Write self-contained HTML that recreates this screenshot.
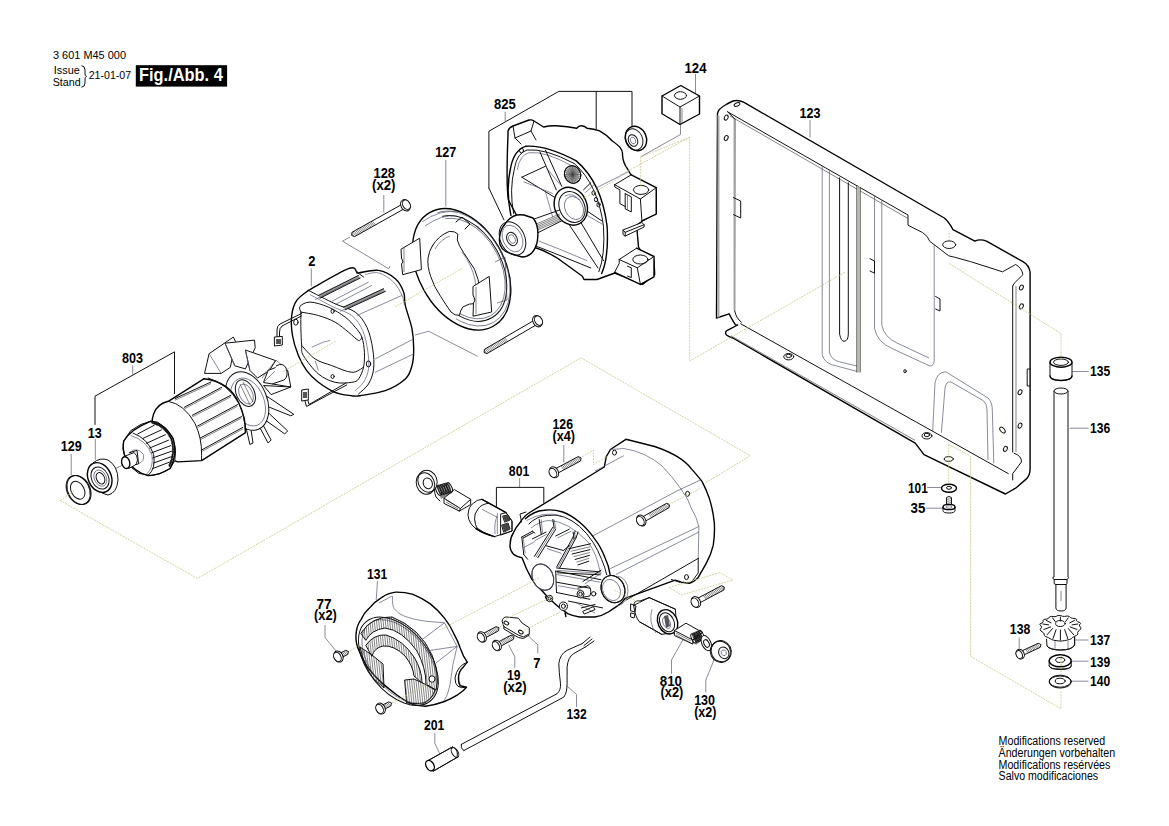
<!DOCTYPE html>
<html><head><meta charset="utf-8"><style>
html,body{margin:0;padding:0;background:#fff;width:1169px;height:826px;overflow:hidden}
svg{position:absolute;left:0;top:0;font-family:"Liberation Sans",sans-serif}
.k{fill:none;stroke:#111;stroke-width:1;stroke-linejoin:round;stroke-linecap:round}
.kb{fill:none;stroke:#000;stroke-width:1.4;stroke-linejoin:round;stroke-linecap:round}
.t{fill:none;stroke:#333;stroke-width:0.6}
.g{fill:none;stroke:#555a70;stroke-width:0.7}
.d{fill:none;stroke:#c9c58e;stroke-width:0.8;stroke-dasharray:2 1}
.w{fill:#fff;stroke:#111;stroke-width:1;stroke-linejoin:round}
.wb{fill:#fff;stroke:#000;stroke-width:1.4;stroke-linejoin:round}
.gr{fill:#b8b8a8;stroke:none}
</style></head><body>
<svg width="1169" height="826" viewBox="0 0 1169 826">
<path class="wb" d="M717.5,113.3 Q718,109 727,104 L733,101 Q738,99.5 743.6,102.2 L944.3,218 Q949,222 953,229.6 L974.9,241.2 Q980,238.5 986.5,241.2 L1022.9,261.6 Q1029,265 1030.1,272 L1030.1,469 Q1030,476 1025.8,479.4 L1015.6,488.2 L1005.4,494 L924,454.7 Q919,448 915.2,443.1 L732.8,338 Q726,336 725.6,333.7 Q725.5,331 726.8,330.7 L737.7,325 L735.3,324.7 Q731,318 729.2,313.8 L716.5,318 Z"/>
<path class="k" d="M734.9,119 L734.7,310.7 Q736,318 741.3,322.2"/>
<path d="M717.5,115 L719.5,116 L719.5,317 L717.5,318 Z" fill="#aaa"/>
<path d="M733.5,118 L734.9,119 L734.9,310 L733.5,310 Z" fill="#aaa"/>
<path class="k" d="M727.6,111.8 L734.9,119"/>
<path class="k" d="M727.6,111.8 L908,215 L908,225.3 L922.5,232.5 Q928,236 929.8,241.3 L948.7,255.8 L954.5,257.2 L970.5,261.6 L1002.5,271.8 L1015.6,264.5 Q1022,268 1022.9,274.7 L1014.1,283.4 L1012.7,286 L1012.7,452"/>
<path class="t" d="M730,116 L908,218.5"/>
<path class="t" d="M1016,286 L1016,452"/>
<ellipse class="k" cx="726.2" cy="117.6" rx="1.8" ry="2.6" transform="rotate(25 726.2 117.6)"/>
<ellipse class="k" cx="726.2" cy="138" rx="1.8" ry="2.6" transform="rotate(25 726.2 138)"/>
<ellipse class="k" cx="737" cy="104.5" rx="3" ry="1.6" transform="rotate(-20 737 104.5)"/>
<path class="k" d="M733.5,197.6 L740.7,201 L740.7,218 L733.5,214.6"/>
<path class="g" d="M822.2,165.9 L822.2,354.4 Q824,364 836.7,366 L858.5,371.8"/>
<path class="g" d="M829.4,170.0 L829.4,352 Q831,360 840,362 L857,366"/>
<path class="k" d="M839.6,177.8 L839.6,334 Q841,341.3 844,341.3 Q848.3,341 848.3,334 L848.3,182.8"/>
<path class="k" d="M857,185.8 L857,372 M860,187.5 L860,372"/>
<path class="gr" d="M857,185.8 L860,187.5 L860,372 L857,372 Z"/>
<path class="g" d="M874.5,195.8 L874.5,328.2 Q877,342 892,348.5 L929.8,366 Q934.2,366 934.2,360 L934.2,244.6"/>
<path class="g" d="M881.8,199.9 L881.8,325 Q884,337 897,343 L929,358"/>
<path class="k" d="M870,258.7 L874.5,261 L874.5,273.2 L870,271"/>
<path class="k" d="M935.6,296.5 L940,299 L940,311 L935.6,309"/>
<path class="g" d="M932.7,431.4 L935,383 Q937,372 945.8,371.8 L988,398 Q992.3,402 992.3,410 L993.8,463.4"/>
<path class="g" d="M941.4,432.9 L945,388 Q946,381 951,382 L983.6,400.9 Q987,404 987,410 L988,460"/>
<path class="k" d="M740.7,323.8 L1008.3,473.6"/>
<path class="t" d="M731,335.8 L915,440.3"/>
<ellipse class="k" cx="788.7" cy="356.7" rx="5" ry="3.2"/>
<ellipse class="k" cx="788.7" cy="355.9" rx="2.8" ry="1.6"/>
<ellipse class="k" cx="926.9" cy="435.8" rx="5" ry="3.2"/>
<ellipse class="k" cx="926.9" cy="435.0" rx="2.8" ry="1.6"/>
<ellipse class="k" cx="948.7" cy="459" rx="4.5" ry="2.3"/>
<ellipse class="k" cx="949.2" cy="244.7" rx="6.5" ry="3.8"/>
<ellipse class="k" cx="905" cy="371.2" rx="1.2" ry="1.6"/>
<ellipse class="k" cx="1021.4" cy="287.5" rx="1.8" ry="2.6" transform="rotate(25 1021.4 287.5)"/>
<ellipse class="k" cx="1021.4" cy="306.4" rx="1.8" ry="2.6" transform="rotate(25 1021.4 306.4)"/>
<ellipse class="k" cx="1020" cy="392.2" rx="1.8" ry="2.6" transform="rotate(25 1020 392.2)"/>
<ellipse class="k" cx="1020" cy="425.6" rx="1.8" ry="2.6" transform="rotate(25 1020 425.6)"/>
<ellipse class="k" cx="1005.4" cy="448.9" rx="1.8" ry="2.6" transform="rotate(25 1005.4 448.9)"/>
<ellipse class="k" cx="1002.5" cy="430" rx="2" ry="3.5" transform="rotate(-40 1002.5 430)"/>
<path class="k" d="M1030.1,369 L1027.2,369 L1027.2,386 L1030.1,386"/>
<path class="k" d="M1014.1,453.2 Q1022,456 1021.4,462 L1012.7,473.6 L1012.7,480"/>
<polyline class="g" points="695.5,74.0 695.5,94.0"/>
<polyline class="g" points="810.0,120.0 810.0,137.5"/>
<polyline class="g" points="680.5,124.7 680.5,134.5 640.7,156.8"/>
<polyline class="g" points="927.3,487.5 941.5,487.5"/>
<polyline class="g" points="926.0,508.2 943.5,508.2"/>
<polyline class="g" points="1072.2,371.5 1088.5,371.5"/>
<polyline class="g" points="1069.7,428.2 1088.5,428.2"/>
<polyline class="g" points="1074.7,640.0 1088.5,640.0"/>
<polyline class="g" points="1072.0,661.2 1088.5,661.2"/>
<polyline class="g" points="1072.0,681.2 1088.5,681.2"/>
<polyline class="g" points="1019.2,637.5 1019.2,648.7"/>
<polyline class="g" points="505.2,111.7 505.2,121.4"/>
<polyline class="k" points="488.9,188.1 488.9,131.2 558.8,91.4 632.0,91.4 632.0,126.3"/>
<polyline class="k" points="596.2,91.4 596.2,128.8"/>
<polyline class="k" points="488.9,188.1 504.0,220.0"/>
<path class="wb" d="M508,134.7 L508,131 Q509,127.5 513,126 L529,120 Q532,119.5 534,121 L543.6,127 Q550,125.5 556.3,125.8 Q568,126.5 576.7,128.3 Q579,125.5 581.8,125.8 Q585,126 586.9,128.3 Q594,129 599.6,130.9 Q607,135 612.3,141 Q618,145 620,147.4 Q623,151 622.5,155 Q623,163 627.6,169 Q630,174 632.7,176.7 L653.9,187 Q656.3,188.5 656.3,191 L656.3,212.9 L642.5,221 Q637,224 636.8,227.5 L638.5,247 L642.5,253.5 L653.9,260 L654.7,274.6 L642.5,284.4 L614.9,273 L597,279.5 L584,279.5 L582.4,276.3 L564.5,263.3 Q550,252 533.6,247 L508.4,200 Q506,185 508,134.7 Z"/>
<path class="kb" d="M510.9,215.3 Q505.4,189.9 510.9,166.3 Q514.5,150.0 525.4,146.3 Q545.4,144.5 576.3,160.9 Q601.7,182.7 607.1,226.2 Q608.9,257.1 601.7,273.4"/>
<path class="k" d="M513.6,213.5 Q509.1,189.9 514.5,168.1 Q517.2,152.7 527.2,150.0 Q545.4,148.2 574.4,163.6 Q598.0,184.5 603.5,226.2 Q605.3,255.3 598.9,271.6"/>
<path class="g" d="M517.2,169.9 Q520.0,154.5 529.0,152.7 Q545.4,150.9 572.6,166.3"/>
<path class="k" d="M539.9,151.8 L556.3,189.9"/>
<path class="k" d="M545.4,150.0 L561.7,186.3"/>
<path class="k" d="M521.8,177.2 L554.5,197.2"/>
<path class="g" d="M523.6,181.7 L552.7,193.5"/>
<path class="k" d="M521.8,177.2 L545.4,166.3"/>
<path class="g" d="M545.4,166.3 L559.9,184.5"/>
<path class="k" d="M569.0,224.4 L598.0,268.0"/>
<path class="k" d="M579.9,220.8 L603.5,260.7"/>
<path class="k" d="M585.3,209.9 L601.7,220.8"/>
<path class="g" d="M587.1,215.3 L602.6,224.4"/>
<path class="k" d="M583.5,189.9 L590.8,182.7"/>
<path class="g" d="M585.3,192.6 L594.4,184.5"/>
<path class="g" d="M545.4,191.7 L552.7,217.1"/>
<path class="k" d="M536.3,246.2 Q559.9,255.3 590.8,268.0"/>
<path class="g" d="M538.1,240.7 Q561.7,249.8 587.1,260.7"/>
<path class="k" d="M513,126 L515,138 L521,144 M515,138 L531,131 L534,121 M531,131 L536,140"/>
<ellipse class="k" cx="521.5" cy="150.5" rx="2.0" ry="2.5" transform="rotate(0 521.5 150.5)"/>
<path class="w" d="M614.7,184.7 L631.3,174.8 L656.2,187.7 L656.2,214.1 L641.9,220.9 L625.2,210.4 L619.9,203.6 L619.9,189.9 L614.7,186.9 Z" style="stroke:none"/>
<path class="k" d="M614.7,184.7 L631.3,174.8"/>
<path class="kb" d="M631.3,174.8 L656.2,187.7"/>
<path class="kb" d="M656.2,187.7 L656.2,214.1 L641.9,220.9"/>
<path class="k" d="M614.7,184.7 L640.4,199.0 L656.2,187.7"/>
<path class="k" d="M640.4,199.0 L641.9,220.9"/>
<path class="k" d="M614.7,184.7 L614.7,186.9 L619.9,189.9 L619.9,203.6 L625.2,206.6"/>
<path class="k" d="M625.2,193.7 L631.3,196.8 L631.3,211.9 L625.2,208.8 L625.2,193.7"/>
<path class="g" d="M627.5,195.2 L627.5,210.4"/>
<ellipse class="k" cx="641.1" cy="189.9" rx="7.6" ry="4.5" transform="rotate(0 641.1 189.9)"/>
<path class="w" d="M623.0,230.0 L641.9,222.5 L644.1,224.7 L644.1,227.0 L625.2,236.1 L623.0,234.5 Z"/>
<path class="k" d="M623.0,230.0 L625.2,232.3 L644.1,224.7"/>
<path class="k" d="M625.2,232.3 L625.2,236.1"/>
<path class="w" d="M619.2,259.5 L636.6,248.2 L654.0,256.5 L654.0,276.9 L640.4,284.4 L614.7,272.3 L619.2,263.3 Z" style="stroke:none"/>
<path class="k" d="M619.2,259.5 L636.6,248.2"/>
<path class="kb" d="M636.6,248.2 L654.0,256.5 L654.0,276.9 L640.4,284.4"/>
<path class="k" d="M619.2,259.5 L637.3,267.8 L654.0,256.5"/>
<path class="k" d="M637.3,267.8 L640.4,284.4"/>
<path class="k" d="M619.2,259.5 L619.2,263.3 L614.7,272.3"/>
<path class="kb" d="M614.7,272.3 L640.4,284.4"/>
<path class="k" d="M627.5,266.3 L631.3,267.8 L631.3,277.6 L627.5,276.1"/>
<ellipse class="k" cx="640.4" cy="259.5" rx="7.6" ry="4.5" transform="rotate(0 640.4 259.5)"/>
<path class="g" d="M596,188 L630,171"/>
<ellipse class="k" cx="593.5" cy="193.0" rx="1.6" ry="2.2" transform="rotate(0 593.5 193.0)"/>
<ellipse class="k" cx="596.0" cy="199.6" rx="1.6" ry="2.2" transform="rotate(0 596.0 199.6)"/>
<ellipse class="k" cx="598.5" cy="204.7" rx="1.6" ry="2.2" transform="rotate(0 598.5 204.7)"/>
<ellipse class="w" cx="572.6" cy="174.5" rx="8.0" ry="9.0" transform="rotate(-25 572.6 174.5)"/>
<path class="t" d="M580.1,174.5 L565.1,174.5"/>
<path class="t" d="M579.8,176.7 L565.4,172.3"/>
<path class="t" d="M579.1,178.8 L566.1,170.2"/>
<path class="t" d="M577.9,180.5 L567.3,168.5"/>
<path class="t" d="M576.4,181.9 L568.9,167.1"/>
<path class="t" d="M574.5,182.7 L570.7,166.3"/>
<path class="t" d="M572.6,183.0 L572.6,166.0"/>
<path class="t" d="M570.7,182.7 L574.5,166.3"/>
<path class="t" d="M568.9,181.9 L576.4,167.1"/>
<path class="t" d="M567.3,180.5 L577.9,168.5"/>
<path class="t" d="M566.1,178.8 L579.1,170.2"/>
<path class="t" d="M565.4,176.7 L579.8,172.3"/>
<ellipse class="k" cx="572.6" cy="174.5" rx="8.0" ry="9.0" transform="rotate(-25 572.6 174.5)"/>
<ellipse cx="572.6" cy="174.5" rx="7" ry="8" fill="#555" opacity="0.45"/>
<ellipse class="wb" cx="570.8" cy="206.2" rx="16.0" ry="19.5" transform="rotate(-25 570.8 206.2)"/>
<ellipse class="k" cx="572.0" cy="207.0" rx="12.5" ry="16.0" transform="rotate(-25 572.0 207.0)"/>
<ellipse class="g" cx="574.0" cy="208.0" rx="9.0" ry="12.0" transform="rotate(-25 574.0 208.0)"/>
<path class="g" d="M565,196 Q572,192 580,200"/>
<path class="k" d="M529.0,220.8 L559.9,209.9"/>
<path class="k" d="M536.3,233.5 L561.7,220.8"/>
<path class="t" d="M535.4,224.4 L559.9,213.9"/>
<path class="t" d="M535.4,226.0 L559.9,215.5"/>
<path class="t" d="M535.4,227.7 L559.9,217.1"/>
<path class="t" d="M535.4,229.3 L559.9,218.8"/>
<path class="t" d="M535.4,230.9 L559.9,220.4"/>
<path class="wb" d="M505,224 Q512,213 524,215 L533,218 Q540,226 537,243 Q533,257 522,257 L512,254 Q498,250 499.5,238 Q500,230 505,224 Z"/>
<ellipse class="k" cx="512.5" cy="238.5" rx="12.2" ry="17.5" transform="rotate(-25 512.5 238.5)"/>
<ellipse class="g" cx="512.5" cy="238.5" rx="9.5" ry="14.0" transform="rotate(-25 512.5 238.5)"/>
<ellipse class="k" cx="512.0" cy="239.0" rx="5.0" ry="7.0" transform="rotate(-25 512.0 239.0)"/>
<ellipse class="g" cx="512.0" cy="239.0" rx="3.0" ry="4.5" transform="rotate(-25 512.0 239.0)"/>
<ellipse class="wb" cx="636" cy="138.5" rx="10.3" ry="12.5" transform="rotate(-25 636 138.5)"/>
<ellipse class="k" cx="634" cy="139.5" rx="8.5" ry="11" transform="rotate(-25 634 139.5)"/>
<ellipse class="k" cx="633" cy="140.5" rx="4.5" ry="6" transform="rotate(-25 633 140.5)"/>
<ellipse class="g" cx="633" cy="140.5" rx="2.5" ry="3.5" transform="rotate(-25 633 140.5)"/>
<path class="wb" d="M680.75,85.5 L699.5,96 L699.5,114 L680,124.5 L662,113.75 L662,96 Z"/>
<path class="k" d="M662,96 L680,107 L699.5,96 M680,107 L680,124.5"/>
<path class="t" d="M682,108 L682,123"/>
<ellipse class="k" cx="680.5" cy="95.5" rx="6" ry="3.8"/>
<polyline class="g" points="445.8,160.0 445.8,206.5"/>
<ellipse class="wb" cx="461.6" cy="269.3" rx="65.1" ry="43.1" transform="rotate(61 461.6 269.3)"/>
<clipPath id="rimclip"><path d="M420,200 L530,200 L530,340 L440,340 L470,300 L490,250 L440,215 Z"/></clipPath>
<g clip-path="url(#rimclip)">
<ellipse class="g" cx="463.4" cy="268.5" rx="61.8" ry="40.9" transform="rotate(61 463.4 268.5)"/>
<ellipse class="k" cx="464.0" cy="268.5" rx="56.6" ry="37.5" transform="rotate(61 464.0 268.5)"/>
<ellipse class="g" cx="464.4" cy="268.5" rx="54.0" ry="35.8" transform="rotate(61 464.4 268.5)"/>
</g>
<path class="g" d="M422,222 Q440,209 458,212"/>
<path class="g" d="M425,226 Q442,214 457,216"/>
<path class="k" d="M456,222 L462,217 L470,224 L465,229"/>
<path class="k" d="M432.4,245.8 Q438,236 449.3,231.4 Q455,231 457.8,234 Q456,240 459.5,245.8 Q463,252 468,259.4 Q476,269 478.1,279.7 Q481,292 476.4,303.5 Q469,303 462.9,306.9 Q460,311 459.5,315.3 Q455,316 451,312 Q446,305 440.8,296.7 Q434,287 430.7,276.4 Q427,266 428.1,257.7 Q429,251 432.4,245.8 Z"/>
<path class="g" d="M435,249 Q441,239 450,236 M462,252 Q472,265 475,280 Q477,292 474,300"/>
<path class="w" d="M401,249.2 L419.7,238.2 L421.4,269.6 L402.7,274.7 L401.5,264 L403,262 L401.5,258 Z"/>
<path class="t" d="M404,248 L404,272"/>
<path class="w" d="M473,286.5 L489.2,276.4 L491.7,312 L473,316.2 L473.5,303 L475,300 L473,295 Z"/>
<path class="t" d="M476,287 L476,314"/>
<path class="t" d="M495,262 L505,257 L507,300 L497,303"/>
<polyline class="g" points="383.8,195.0 383.8,212.5"/>
<path class="w" d="M401.0,204.9 L352.1,232.2 L351.6,235.4 L354.6,236.6 L403.5,209.2"/>
<path class="t" d="M372.3,221.0 L375.4,224.9 M370.9,221.7 L374.0,225.7 M369.5,222.5 L372.6,226.5 M368.1,223.3 L371.2,227.3 M366.7,224.1 L369.8,228.1 M365.3,224.9 L368.4,228.8 M363.9,225.7 L367.0,229.6 M362.5,226.4 L365.6,230.4 M361.1,227.2 L364.2,231.2 M359.7,228.0 L362.8,232.0 M358.3,228.8 L361.5,232.8 M356.9,229.6 L360.1,233.5 M355.5,230.3 L358.7,234.3 M354.1,231.1 L357.3,235.1 M352.7,231.9 L355.9,235.9 M351.3,232.7 L354.5,236.7"/>
<ellipse class="w" cx="405.4" cy="205.3" rx="4.5" ry="6.0" transform="rotate(150.8 405.4 205.3)"/>
<ellipse class="w" cx="406.4" cy="204.7" rx="3.6" ry="5.1" transform="rotate(150.8 406.4 204.7)"/>
<path class="w" d="M533.1,320.9 L484.5,349.3 L484.0,352.5 L487.0,353.6 L535.7,325.2"/>
<path class="t" d="M504.5,337.6 L507.7,341.5 M503.1,338.4 L506.4,342.3 M501.8,339.2 L505.0,343.1 M500.4,340.0 L503.6,343.9 M499.0,340.8 L502.2,344.7 M497.6,341.6 L500.8,345.6 M496.2,342.4 L499.4,346.4 M494.8,343.3 L498.1,347.2 M493.5,344.1 L496.7,348.0 M492.1,344.9 L495.3,348.8 M490.7,345.7 L493.9,349.6 M489.3,346.5 L492.5,350.4 M487.9,347.3 L491.2,351.2 M486.6,348.1 L489.8,352.0 M485.2,348.9 L488.4,352.8 M483.8,349.7 L487.0,353.6"/>
<ellipse class="w" cx="537.5" cy="321.2" rx="4.5" ry="6.0" transform="rotate(149.7 537.5 321.2)"/>
<ellipse class="w" cx="538.5" cy="320.6" rx="3.6" ry="5.1" transform="rotate(149.7 538.5 320.6)"/>
<path class="g" d="M350,237 L342.5,241.2 L388.75,268.75 L390,266"/>
<path class="g" d="M415,335 L428.75,331.25 L477.5,356.25"/>
<polyline class="g" points="311.3,268.5 311.3,286.3"/>
<path class="wb" d="M308.4,290.4 C315.1,286.8 340.4,271.7 348.5,268.7 C356.6,265.6 355.2,271.3 356.8,272.0 C358.5,272.7 354.9,273.1 358.5,272.9 C362.1,272.6 372.4,269.4 378.6,270.4 C384.7,271.3 391.1,275.1 395.3,278.7 C399.5,282.3 402.0,287.6 403.6,292.1 C405.3,296.5 403.9,299.3 405.3,305.4 C406.7,311.6 410.6,321.6 412.0,328.8 C413.4,336.1 413.7,342.8 413.7,348.9 C413.7,355.0 413.4,360.6 412.0,365.6 C410.6,370.6 409.8,374.8 405.3,379.0 C400.8,383.1 392.8,387.9 385.3,390.7 C377.7,393.4 365.8,394.8 360.2,395.7 C354.6,396.5 356.0,396.2 351.8,395.7 C347.7,395.1 340.7,394.6 335.1,392.3 C329.6,390.1 323.2,385.9 318.4,382.3 C313.7,378.7 310.1,375.1 306.7,370.6 C303.4,366.1 300.7,361.4 298.4,355.6 C296.0,349.7 293.6,342.2 292.5,335.5 C291.4,328.8 291.0,321.3 291.7,315.5 C292.4,309.6 293.9,304.6 296.7,300.4 C299.5,296.3 306.4,292.1 308.4,290.4"/>
<path class="g" d="M365.2,274.5 C367.4,274.3 373.8,271.6 378.6,272.9 C383.3,274.1 389.7,278.3 393.6,282.1 C397.5,285.8 400.1,291.5 402.0,295.4 C403.8,299.3 404.0,303.8 404.5,305.4"/>
<path class="k" d="M356.8,272.0 L363.5,277.0"/>
<path class="k" d="M308.4,290.4 C312.8,292.6 327.3,300.2 335.1,303.8 C342.9,307.4 349.9,308.2 355.2,312.1 C360.5,316.0 363.9,321.0 366.9,327.2 C369.8,333.3 371.6,341.9 372.7,348.9 C373.8,355.8 374.3,363.1 373.6,368.9 C372.9,374.8 371.0,379.8 368.5,384.0 C366.0,388.1 360.2,392.3 358.5,394.0"/>
<path class="g" d="M310.1,294.6 C314.0,296.7 326.5,303.6 333.5,307.1 C340.4,310.6 347.0,311.6 351.8,315.5 C356.7,319.4 360.0,324.7 362.7,330.5 C365.3,336.4 366.7,344.1 367.7,350.6 C368.7,357.0 369.2,363.6 368.5,368.9 C367.8,374.2 365.8,378.7 363.5,382.3 C361.3,385.9 356.6,389.3 355.2,390.7"/>
<path class="k" d="M300.9,312.1 C300.7,311.2 298.5,307.9 300.0,306.3 C301.6,304.6 305.3,302.0 310.1,302.1 C314.8,302.2 322.6,304.6 328.4,307.1 C334.3,309.6 340.7,313.8 345.2,317.1 C349.6,320.5 352.4,323.8 355.2,327.2 C358.0,330.5 360.3,333.0 361.9,337.2 C363.4,341.4 364.1,347.2 364.4,352.2 C364.6,357.2 364.5,362.8 363.5,367.3 C362.6,371.7 360.5,376.5 358.5,379.0 C356.6,381.5 355.7,381.7 351.8,382.3 C347.9,382.9 340.7,383.7 335.1,382.3 C329.6,380.9 323.7,378.4 318.4,373.9 C313.1,369.5 306.2,360.3 303.4,355.6 C300.6,350.8 302.1,350.0 301.7,345.5 C301.3,341.1 301.0,334.4 300.9,328.8 C300.7,323.3 300.9,314.9 300.9,312.1"/>
<path class="k" d="M300.9,312.1 C303.8,312.7 312.7,313.8 318.4,315.5 C324.1,317.1 330.1,319.4 335.1,322.2 C340.1,324.9 344.6,329.1 348.5,332.2 C352.4,335.2 356.3,339.7 358.5,340.5 C360.7,341.4 361.3,337.7 361.9,337.2"/>
<path class="k" d="M301.7,345.5 C303.9,347.8 310.1,355.6 315.1,358.9 C320.1,362.3 325.7,363.4 331.8,365.6 C337.9,367.8 346.5,372.0 351.8,372.3 C357.1,372.6 361.6,368.1 363.5,367.3"/>
<path class="g" d="M311.7,347.2 C313.7,346.4 320.4,343.3 323.4,342.2 C326.5,341.1 329.0,340.8 330.1,340.5"/>
<path class="g" d="M315.1,360.6 C315.6,362.3 317.9,368.9 318.4,370.6"/>
<ellipse class="k" cx="332.6" cy="311.3" rx="1.6" ry="2.0" transform="rotate(0 332.6 311.3)"/>
<ellipse class="k" cx="368.5" cy="363.9" rx="2.2" ry="3.0" transform="rotate(0 368.5 363.9)"/>
<ellipse class="k" cx="295.9" cy="322.2" rx="2.2" ry="3.0" transform="rotate(0 295.9 322.2)"/>
<ellipse class="k" cx="332.6" cy="376.5" rx="1.6" ry="2.0" transform="rotate(0 332.6 376.5)"/>
<path d="M318.4,295.4 L358.5,275.4 L360.2,278.0 L320.1,298.1 Z" fill="#999"/>
<path class="k" d="M318.4,295.4 L358.5,275.4 M320.1,298.1 L360.2,278.0"/>
<path class="g" d="M315.1,299.6 L355.2,279.5"/>
<path d="M343.5,307.1 L383.6,288.7 L385.3,291.4 L345.2,309.8 Z" fill="#999"/>
<path class="k" d="M343.5,307.1 L383.6,288.7 M345.2,309.8 L385.3,291.4"/>
<path class="g" d="M340.1,311.3 L380.2,292.9"/>
<path class="g" d="M331.8,301.3 L368.5,282.1 M335.1,304.6 L371.9,285.4"/>
<path class="g" d="M356.8,315.5 L402.0,295.4"/>
<path class="g" d="M375.2,358.9 L413.7,338.9 M375.2,372.3 L413.7,353.9"/>
<path class="k" d="M301.5,313.5 L280,324 Q277,326 277,330 L277,337.3 M301.5,316 L282,326 Q279.5,328 279.5,332 L279.5,337"/>
<path class="w" d="M274.4,337 L282.3,336.4 L282.3,345 L274.4,346 Z"/>
<path d="M276,339 L281,339 L281,344 L276,344 Z" fill="#555"/>
<path class="k" d="M305,401 L306.5,406.5 L346.7,385 M308,400.5 L309,404.5 L346,383"/>
<path class="w" d="M301.7,390 L308.3,389 L308.3,400 L301.7,401 Z"/>
<path d="M303,392 L307,392 L307,398 L303,398 Z" fill="#555"/>
<polyline class="g" points="132.7,365.4 132.7,374.5"/>
<polyline class="k" points="95.0,424.5 95.0,396.2 174.5,351.8 174.5,393.6"/>
<path class="w" d="M204.5,373.4 L209.1,353.7 L233.3,337.1 L235.6,341.6 L230.3,367.4 L221.2,373.4 Z"/>
<path class="w" d="M225.0,343.2 L254.5,340.1 L255.2,347.7 L245.4,368.9 L234.8,365.8 Z"/>
<path class="w" d="M245.4,350.0 L275.6,360.6 L269.6,370.4 L257.5,378.0 L249.9,370.4 Z"/>
<path class="w" d="M268.1,370.4 L280.2,365.8 L287.7,370.4 L290.8,387.0 L263.5,382.5 Z"/>
<path class="w" d="M263.5,385.5 L290.8,387.0 L271.1,394.6 Z"/>
<path class="w" d="M266.6,396.1 L293.8,414.3 L290.8,415.8 L268.1,406.7 Z"/>
<path class="w" d="M265.0,409.7 L287.7,430.9 L284.7,433.9 L263.5,418.8 Z"/>
<path class="w" d="M260.5,420.3 L271.1,440.0 L268.1,443.0 L257.5,423.3 Z"/>
<path class="w" d="M249.9,421.8 L253.0,443.0 L249.9,444.5 L245.4,424.8 Z"/>
<path class="g" d="M209.1,353.7 L221.2,373.4 M225,343.2 L234.8,365.8 M245.4,350 L249.9,370.4 M263.5,382.5 L280.2,365.8"/>
<path class="t" d="M262,378 L276,360 L287.7,370.4"/>
<path class="w" d="M276,366 Q283,362 286,368 Q289,376 284,380 L272,384"/>
<ellipse class="w" cx="247.0" cy="401.0" rx="20.0" ry="30.5" transform="rotate(-22 247.0 401.0)"/>
<ellipse class="g" cx="248.0" cy="402.0" rx="16.0" ry="25.0" transform="rotate(-22 248.0 402.0)"/>
<ellipse class="k" cx="245.4" cy="393.1" rx="9.0" ry="14.0" transform="rotate(-25 245.4 393.1)"/>
<ellipse class="g" cx="246.0" cy="394.0" rx="6.5" ry="10.5" transform="rotate(-25 246.0 394.0)"/>
<path class="t" d="M240,384 L250,405 M243,382 L253,402"/>
<path class="wb" d="M168.3,401.3 L204.2,378.7 Q230,382 238.9,403.3 Q246,418 245.5,432.6 L201.6,460.6 L177.6,461.9 Q162,457 155,439.3 Q150,423 153.6,414 Q157,404 168.3,401.3 Z"/>
<path class="k" d="M168.3,401.3 Q184,404 194.9,423.3 Q202,438 201.6,455.3 L201.6,460.6"/>
<path class="k" d="M208.2,378 Q228,384 238.9,403.3 Q245,417 245.5,432.6"/>
<path class="k" d="M175,398.6 L211,382"/>
<path class="t" d="M175,400.20000000000005 L211,383.6"/>
<path class="k" d="M184.3,407.3 L221.6,387.3"/>
<path class="t" d="M184.3,408.90000000000003 L221.6,388.90000000000003"/>
<path class="k" d="M192.3,415.3 L230.9,395.3"/>
<path class="t" d="M192.3,416.90000000000003 L230.9,396.90000000000003"/>
<path class="k" d="M197.6,426 L237.6,404.6"/>
<path class="t" d="M197.6,427.6 L237.6,406.20000000000005"/>
<path class="k" d="M200.3,438 L241.5,416.6"/>
<path class="t" d="M200.3,439.6 L241.5,418.20000000000005"/>
<path class="k" d="M201.6,450 L242.9,427.3"/>
<path class="t" d="M201.6,451.6 L242.9,428.90000000000003"/>
<path class="w" d="M123.7,441.0 L130.7,430.7 L141.0,424.4 L150.4,421.3 L157.5,422.1 L166.1,428.4 L173.2,438.6 L175.6,450.4 L174.8,460.6 L170.1,468.5 L159.1,474.0 L150.4,475.6 L138.6,473.2 L130.7,466.9 L125.2,459.1 L122.9,448.8 L123.7,441.0 Z"/>
<path class="kb" d="M123.7,441.0 Q130.7,429.2 150.4,421.3 Q163.8,422.9 173.2,438.6 Q177.9,454.3 170.1,468.5 Q159.1,475.6 148.0,475.6 Q134.7,472.4 126.0,459.1 Q122.1,449.6 123.7,441.0"/>
<path class="kb" d="M152.0,422.5 Q165.4,426.0 171.6,439.4 Q175.6,452.8 169.3,466.1"/>
<path d="M152.0,422.5 Q165.4,426.0 171.6,439.4 Q175.6,452.8 169.3,466.1" fill="none" stroke="#222" stroke-width="2.6" stroke-dasharray="0.8 0.8"/>
<path class="k" d="M133.1,433.1 Q148.0,438.6 153.6,454.3 Q155.9,468.5 148.8,474.8"/>
<path class="g" d="M130.7,435.5 Q146.5,440.2 152.0,455.1 Q153.6,468.5 146.5,474.0"/>
<path class="k" d="M137.8,433.9 L154.3,425.2"/>
<path class="k" d="M142.5,438.6 L161.4,429.9"/>
<path class="k" d="M146.5,443.3 L165.4,434.7"/>
<path class="k" d="M149.6,448.0 L168.5,440.2"/>
<path class="k" d="M151.6,452.8 L170.5,445.7"/>
<path class="k" d="M152.8,457.9 L171.6,451.2"/>
<path class="k" d="M153.6,463.0 L171.3,456.7"/>
<path class="k" d="M152.8,468.5 L169.3,462.2"/>
<path class="g" d="M129.9,452.0 Q137.8,446.5 143.3,454.3 Q144.9,462.2 137.8,463.8"/>
<path class="k" d="M129.2,452.8 L137.0,450.4 L138.6,463.8 L130.7,466.1"/>
<path class="w" d="M123,457 L134,452.5 Q137.5,455 137.5,460 Q137,464 134.5,465.5 L128.3,468.6"/>
<ellipse class="wb" cx="125.7" cy="462.6" rx="4.0" ry="6.0" transform="rotate(-15 125.7 462.6)"/>
<polyline class="g" points="71.2,454.0 71.2,475.2"/>
<polyline class="g" points="95.3,439.0 95.3,459.9"/>
<path class="g" d="M115.7,468.4 L122,465.4"/>
<path class="w" d="M93,463 Q100,457 108,460 Q118,466 118,480 Q117,493 108,495 L102,493"/>
<ellipse class="wb" cx="99.7" cy="477.5" rx="11.5" ry="15.5" transform="rotate(-25 99.7 477.5)"/>
<ellipse class="k" cx="100.0" cy="478.0" rx="8.5" ry="11.5" transform="rotate(-25 100.0 478.0)"/>
<ellipse class="g" cx="100.3" cy="478.1" rx="6.0" ry="8.5" transform="rotate(-25 100.3 478.1)"/>
<ellipse class="k" cx="100.5" cy="478.3" rx="4.0" ry="6.0" transform="rotate(-25 100.5 478.3)"/>
<ellipse class="w" cx="79.0" cy="490.0" rx="11.0" ry="15.3" transform="rotate(-28 79.0 490.0)"/>
<ellipse class="k" cx="78.2" cy="490.0" rx="11.0" ry="15.3" transform="rotate(-28 78.2 490.0)"/>
<ellipse class="k" cx="77.7" cy="490.2" rx="6.5" ry="9.5" transform="rotate(-28 77.7 490.2)"/>
<path class="wb" d="M530.5,512 L604.3,467 L606.3,456.7 L610.4,449.5 L625.9,439.3 L654.6,446.5 Q668,451 677.3,456.7 Q686,462 691.7,469.1 Q697,475 702,481.4 Q706,489 709.2,497.9 Q713,510 714.3,522.6 Q715,534 713.3,545.2 Q711,555 706.1,563.7 Q702,571 697.8,578.1 Q694,582 689.6,583.2 L681.4,582.2 L675.2,580.1 L625,598.4 Q622,603 618.6,605.2 Q613,609 608.4,612 Q602,616 594.8,617 L579.6,617 Q573,616 567.7,613.6 Q558,607 549.1,598.4 Q540,589 532.2,579.8 Q526,569 522,557.8 Q517,557 513.6,554.4 Q509,549 510.2,544.2 Q510,538 513.6,532.3 Q516,527 520.3,522.2 Q524,516 530.5,512 Z"/>
<path class="g" d="M610.4,449.5 L623.8,448.5 Q646,452 662,466 Q672,476 681,489 Q688,498 691.7,509 Q697,518 698.9,526.5 L698.2,558.4"/>
<path class="k" d="M698.2,558.4 L698.2,573 L691.7,581.7 M671.3,579.5 L680,582.4"/>
<path class="g" d="M595,471.1 L623.8,455.7"/>
<path class="g" d="M592.9,535.9 L677.1,490.9 L700.4,480"/>
<path class="g" d="M610.3,568.6 L698.9,526.5"/>
<path class="g" d="M616.1,574.4 L698.9,532"/>
<path class="k" d="M626.3,600 L698.2,558.4"/>
<ellipse class="k" cx="614.5" cy="452.6" rx="2.0" ry="2.5" transform="rotate(0 614.5 452.6)"/>
<ellipse class="k" cx="687.6" cy="493.8" rx="2.0" ry="2.5" transform="rotate(0 687.6 493.8)"/>
<ellipse class="k" cx="686.5" cy="577.1" rx="2.0" ry="2.5" transform="rotate(0 686.5 577.1)"/>
<path class="kb" d="M525.4,518.8 Q534,511 544,510.3 Q553,509 562.7,512 Q571,515 579.6,522.2 Q588,529 594.8,539.1 Q601,547 605,557.8 Q609,566 610.1,574.7"/>
<path class="k" d="M528.8,523.9 Q537,516 547.4,515.4 Q556,514 564.4,517.1 Q572,520 579.6,526.4 Q587,533 593.2,542.5 Q598,550 601.6,559.4 Q605,567 606.7,574.7"/>
<path class="g" d="M531,528 Q540,521 549,520.5 Q568,521 588,542 Q597,554 600,572"/>
<path class="k" d="M534.4,556.4 L552.8,527.3"/>
<path class="k" d="M537.8,557.8 L555.7,529.2"/>
<path class="g" d="M536.1,557.1 L554.2,528.3"/>
<path class="k" d="M556.7,567.0 L573.1,537.0"/>
<path class="k" d="M559.6,568.0 L576.0,537.9"/>
<path class="g" d="M558.1,567.5 L574.6,537.5"/>
<path class="k" d="M573.1,537.0 L575.1,531.2"/>
<path class="k" d="M576.0,537.9 L578.0,532.1"/>
<path class="k" d="M556.7,568.0 L600.3,571.9"/>
<path class="k" d="M557.6,572.8 L600.3,574.8"/>
<path class="g" d="M557.2,570.4 L600.3,573.3"/>
<path class="k" d="M521.8,537.0 L532.4,531.2"/>
<path class="k" d="M532.4,531.2 L534.9,533.1"/>
<path class="k" d="M521.8,537.0 L523.7,554.4"/>
<path class="k" d="M523.7,554.4 L527.6,559.3"/>
<path class="k" d="M523.2,537.9 L533.4,532.6"/>
<path class="g" d="M523.2,537.9 L525.2,553.4"/>
<path class="g" d="M523.7,547.6 L534.4,541.8"/>
<path class="g" d="M523.2,538.4 L533.4,532.6"/>
<path class="k" d="M532.4,538.9 L546.0,532.1"/>
<path class="g" d="M534.4,540.9 L547.0,534.1"/>
<path class="k" d="M546.0,545.7 L563.4,550.5"/>
<path class="g" d="M547.0,548.6 L561.5,553.4"/>
<path class="k" d="M555.7,536.0 L569.3,529.2"/>
<path class="g" d="M557.6,537.9 L571.2,531.2"/>
<path class="k" d="M563.4,550.5 L569.3,545.7"/>
<path class="k" d="M569.3,548.6 L590.6,543.8"/>
<path class="t" d="M570.7,551.3 L590.3,546.7"/>
<path class="k" d="M572.2,554.0 L590.0,549.6"/>
<path class="t" d="M573.6,556.7 L589.7,552.5"/>
<path class="k" d="M575.1,559.5 L589.4,555.4"/>
<path class="t" d="M576.5,562.2 L589.1,558.3"/>
<path class="k" d="M578.0,564.9 L588.8,561.2"/>
<path class="k" d="M539.2,519.5 L541.2,534.1"/>
<path class="g" d="M541.2,519.5 L542.6,534.1"/>
<path class="k" d="M552.8,519.5 L554.2,528.3"/>
<path class="g" d="M554.2,519.5 L555.7,528.3"/>
<path class="k" d="M573.1,532.1 L574.1,538.9"/>
<path class="g" d="M574.6,532.1 L575.6,538.9"/>
<path class="g" d="M526.6,520.5 Q544.1,510.8 561.5,515.7"/>
<ellipse class="w" cx="542.8" cy="577.1" rx="10.3" ry="13.7" transform="rotate(-25 542.8 577.1)"/>
<ellipse class="g" cx="542.8" cy="577.1" rx="10.3" ry="13.7" transform="rotate(-25 542.8 577.1)"/>
<path class="k" d="M555.7,571.1 L601.0,579.7"/>
<path class="g" d="M556.5,574.5 L600.1,582.2"/>
<path class="k" d="M556.5,582.2 L589.9,588.2"/>
<path class="g" d="M558.2,585.7 L581.3,589.9"/>
<path class="k" d="M555.7,571.1 L556.5,592.5"/>
<path class="k" d="M556.5,592.5 L589.9,599.3"/>
<path class="k" d="M568.5,601.1 L602.7,607.9"/>
<path class="g" d="M576.2,602.8 L595.0,613.0"/>
<path class="k" d="M581.3,607.9 L595.0,604.5"/>
<path class="k" d="M583.0,581.4 L601.0,570.3"/>
<path class="g" d="M584.7,584.0 L601.9,572.8"/>
<path class="k" d="M577.9,588.2 L588.2,585.7 Q592.4,589.1 589.9,595.9 L581.3,597.6"/>
<ellipse class="w" cx="580.5" cy="594.2" rx="3.5" ry="3.8" transform="rotate(0 580.5 594.2)"/>
<ellipse class="k" cx="580.5" cy="594.2" rx="1.8" ry="2.0" transform="rotate(0 580.5 594.2)"/>
<ellipse class="k" cx="593.7" cy="593.8" rx="2.2" ry="2.2" transform="rotate(0 593.7 593.8)"/>
<ellipse class="w" cx="549.7" cy="598.5" rx="3.0" ry="3.2" transform="rotate(0 549.7 598.5)"/>
<ellipse class="k" cx="549.7" cy="598.5" rx="1.4" ry="1.6" transform="rotate(0 549.7 598.5)"/>
<ellipse class="w" cx="563.4" cy="606.2" rx="4.0" ry="4.2" transform="rotate(0 563.4 606.2)"/>
<ellipse class="k" cx="563.4" cy="606.2" rx="2.0" ry="2.2" transform="rotate(0 563.4 606.2)"/>
<path class="k" d="M583.0,611.3 L593.3,606.6 L595.0,609.6 L584.7,613.9 Z"/>
<path class="kb" d="M545.4,596.8 L547.1,600.2 M565.1,613.0 L565.9,616.5"/>
<ellipse class="w" cx="613.0" cy="589.1" rx="11.5" ry="14.0" transform="rotate(-25 613.0 589.1)"/>
<ellipse class="k" cx="613.0" cy="589.1" rx="11.5" ry="14.0" transform="rotate(-25 613.0 589.1)"/>
<ellipse class="g" cx="611.5" cy="590.0" rx="8.5" ry="11.0" transform="rotate(-25 611.5 590.0)"/>
<path class="g" d="M617,576 Q628,578 628,591 Q627,604 617,606"/>
<path class="k" d="M521.5,522 L520,514 L526,512"/>
<polyline class="g" points="519.6,478.2 519.6,487.4"/>
<polyline class="k" points="496.4,506.5 496.4,487.4 543.8,487.4 543.8,502.5"/>
<path class="w" d="M482,499.3 L506,512.6 L512,521 L512,531 L494.6,536.6 L492,536 Q480,532 476,528.6 Q469,524 468,515.3 Q468.5,506 473.3,503.3 Q477,499.5 482,499.3 Z"/>
<path class="kb" d="M482,499.3 L506,512.6"/>
<path class="k" d="M488,503.3 Q481,504.5 478,509 Q474,514 474.6,519 Q475,525 477,528 Q483,533 491.3,535.3"/>
<path class="g" d="M482,509.3 L497.3,517.3"/>
<path class="g" d="M497.3,513 L497.3,534 M497.3,516 Q494,522 495,534"/>
<path class="k" d="M501,514 L506,512.6 L512,521 L512,531 L501,535 Z"/>
<path class="k" d="M503,516 L508,515 L510,520 L505,522 Z M502,525 L508,523 L510,529 L504,532 Z"/>
<path d="M503,516 L508,515 L510,520 L505,522 Z M502,525 L508,523 L510,529 L504,532 Z" fill="#444"/>
<path class="kb" d="M476,528.6 Q484,534 494.6,536.6"/>
<path class="w" d="M444,498.2 L454.3,489.5 L470.7,499.3 L470.7,504.5 L459.4,511.1 L444,503.4 Z"/>
<path class="k" d="M444,498.2 L460.4,508.5 L470.7,499.3 M460.4,508.5 L459.4,511.1"/>
<path class="t" d="M446,500 L458,507 M446,502 L458,509"/>
<ellipse class="k" cx="438.5" cy="490.5" rx="2.2" ry="5.2" transform="rotate(-25 438.5 490.5)"/>
<ellipse class="k" cx="440.7" cy="489.9" rx="2.2" ry="5.2" transform="rotate(-25 440.7 489.9)"/>
<ellipse class="k" cx="442.9" cy="489.3" rx="2.2" ry="5.2" transform="rotate(-25 442.9 489.3)"/>
<ellipse class="k" cx="445.1" cy="488.7" rx="2.2" ry="5.2" transform="rotate(-25 445.1 488.7)"/>
<ellipse class="k" cx="447.3" cy="488.1" rx="2.2" ry="5.2" transform="rotate(-25 447.3 488.1)"/>
<ellipse class="k" cx="449.5" cy="487.5" rx="2.2" ry="5.2" transform="rotate(-25 449.5 487.5)"/>
<path d="M437,487 L449,482 L452,493 L441,499 Z" fill="#222" opacity="0.55"/>
<path class="k" d="M436,484 Q433,490 436,497 L440,501"/>
<ellipse class="w" cx="427.5" cy="481.2" rx="9.5" ry="11.2" transform="rotate(-20 427.5 481.2)"/>
<ellipse class="k" cx="425.4" cy="483.5" rx="9.0" ry="11.0" transform="rotate(-20 425.4 483.5)"/>
<ellipse class="k" cx="427.8" cy="483.3" rx="4.5" ry="5.5" transform="rotate(-20 427.8 483.3)"/>
<polyline class="g" points="563.8,445.0 563.8,462.5"/>
<path class="w" d="M558.2,472.9 L580.5,461.0 L581.1,457.9 L578.2,456.6 L555.9,468.5"/>
<path class="t" d="M564.0,469.8 L561.0,465.8 M565.4,469.1 L562.4,465.0 M566.8,468.3 L563.8,464.3 M568.2,467.6 L565.2,463.5 M569.7,466.8 L566.6,462.8 M571.1,466.1 L568.0,462.0 M572.5,465.3 L569.4,461.3 M573.9,464.6 L570.8,460.5 M575.3,463.8 L572.3,459.8 M576.7,463.1 L573.7,459.0 M578.1,462.3 L575.1,458.3 M579.6,461.6 L576.5,457.5 M581.0,460.8 L577.9,456.8"/>
<ellipse class="w" cx="554.0" cy="472.3" rx="4.3" ry="5.8" transform="rotate(-28.0 554.0 472.3)"/>
<ellipse class="w" cx="552.9" cy="472.9" rx="3.5" ry="4.9" transform="rotate(-28.0 552.9 472.9)"/>
<path class="w" d="M645.6,521.0 L669.0,507.7 L669.5,504.5 L666.5,503.3 L643.1,516.6"/>
<path class="t" d="M651.7,517.5 L648.5,513.5 M653.1,516.7 L649.9,512.7 M654.5,515.9 L651.3,511.9 M655.9,515.1 L652.7,511.2 M657.3,514.3 L654.1,510.4 M658.6,513.5 L655.5,509.6 M660.0,512.7 L656.9,508.8 M661.4,512.0 L658.3,508.0 M662.8,511.2 L659.7,507.2 M664.2,510.4 L661.1,506.4 M665.6,509.6 L662.4,505.6 M667.0,508.8 L663.8,504.8 M668.4,508.0 L665.2,504.1 M669.8,507.2 L666.6,503.3"/>
<ellipse class="w" cx="641.3" cy="520.5" rx="4.3" ry="5.8" transform="rotate(-29.6 641.3 520.5)"/>
<ellipse class="w" cx="640.3" cy="521.1" rx="3.5" ry="4.9" transform="rotate(-29.6 640.3 521.1)"/>
<path class="w" d="M700.2,602.6 L723.7,590.1 L724.3,587.0 L721.4,585.7 L697.9,598.2"/>
<path class="t" d="M706.4,599.3 L703.3,595.3 M707.8,598.6 L704.7,594.5 M709.2,597.8 L706.1,593.8 M710.6,597.1 L707.6,593.0 M712.0,596.3 L709.0,592.3 M713.4,595.6 L710.4,591.5 M714.8,594.8 L711.8,590.8 M716.3,594.1 L713.2,590.0 M717.7,593.3 L714.6,589.3 M719.1,592.6 L716.0,588.5 M720.5,591.8 L717.5,587.8 M721.9,591.1 L718.9,587.0 M723.3,590.3 L720.3,586.3 M724.7,589.6 L721.7,585.6"/>
<ellipse class="w" cx="696.0" cy="602.0" rx="4.3" ry="5.8" transform="rotate(-27.9 696.0 602.0)"/>
<ellipse class="w" cx="694.9" cy="602.6" rx="3.5" ry="4.9" transform="rotate(-27.9 694.9 602.6)"/>
<path class="w" d="M633.7,605.3 L649.2,597.6 L675.4,609.2 L677,632 L661.8,634.4 L639.5,621.8 Q635,617 633.7,605.3 Z"/>
<path class="k" d="M649.2,597.6 L675.4,609.2 M639.5,621.8 L661.8,634.4"/>
<path class="k" d="M633.7,605.3 Q634,600 640,601 L649.2,597.6"/>
<path class="g" d="M652.1,609.2 Q648,622 656,633"/>
<path class="k" d="M631,604 L636,606 L635,612 L631,611 Z M631,613 L635,614 L634,618 L631,617 Z"/>
<ellipse class="wb" cx="667.6" cy="621.8" rx="9.7" ry="12.6" transform="rotate(-25 667.6 621.8)"/>
<ellipse class="k" cx="667.0" cy="622.3" rx="7.0" ry="10.0" transform="rotate(-25 667.0 622.3)"/>
<ellipse class="g" cx="666.6" cy="622.8" rx="3.5" ry="6.0" transform="rotate(-25 666.6 622.8)"/>
<path d="M664,616 L668,615 L670,626 L666,628 Z" fill="#555"/>
<path class="w" d="M674.4,630.5 L686,623.2 L702.5,632.4 L692.8,640 L692.8,644.1 L674.4,635.5 Z"/>
<path class="k" d="M674.4,630.5 L692.8,640 L702.5,632.4"/>
<path class="t" d="M676,633 L691,641 M676,635 L691,643"/>
<path d="M692.8,633.4 L700,631 L702.5,640 L696,645 Z" fill="#222" opacity="0.5"/>
<ellipse class="k" cx="693.5" cy="638.5" rx="1.8" ry="5.0" transform="rotate(-25 693.5 638.5)"/>
<ellipse class="k" cx="695.5" cy="637.6" rx="1.8" ry="5.0" transform="rotate(-25 695.5 637.6)"/>
<ellipse class="k" cx="697.5" cy="636.7" rx="1.8" ry="5.0" transform="rotate(-25 697.5 636.7)"/>
<ellipse class="k" cx="699.5" cy="635.8" rx="1.8" ry="5.0" transform="rotate(-25 699.5 635.8)"/>
<ellipse class="k" cx="701.5" cy="634.9" rx="1.8" ry="5.0" transform="rotate(-25 701.5 634.9)"/>
<ellipse class="w" cx="706.3" cy="643.1" rx="4.5" ry="8.0" transform="rotate(-25 706.3 643.1)"/>
<ellipse class="k" cx="706.5" cy="643.5" rx="2.5" ry="4.0" transform="rotate(-25 706.5 643.5)"/>
<ellipse class="w" cx="721.2" cy="651.2" rx="10.0" ry="10.7" transform="rotate(-25 721.2 651.2)"/>
<ellipse class="k" cx="720.4" cy="651.8" rx="10.0" ry="10.7" transform="rotate(-25 720.4 651.8)"/>
<ellipse class="k" cx="723.8" cy="652.8" rx="5.0" ry="6.0" transform="rotate(-25 723.8 652.8)"/>
<ellipse class="g" cx="723.8" cy="652.8" rx="2.5" ry="3.0" transform="rotate(-25 723.8 652.8)"/>
<polyline class="g" points="671.5,673.8 671.5,660.0 682.8,640.0"/>
<polyline class="g" points="705.8,692.5 705.8,680.0 714.0,660.0"/>
<path class="w" d="M1050,362.2 L1050,376 Q1050,380 1061,380.5 Q1072,380 1072,376 L1072,362.2"/>
<ellipse class="wb" cx="1061.0" cy="362.2" rx="11.0" ry="5.0" transform="rotate(0 1061.0 362.2)"/>
<ellipse class="k" cx="1061.0" cy="362.2" rx="7.5" ry="3.2" transform="rotate(0 1061.0 362.2)"/>
<path class="kb" d="M1050,376 Q1050,380 1061,380.5 Q1072,380 1072,376"/>
<path class="w" d="M1054,391 L1054,577 L1052.5,577.8 L1054.2,579.5 L1054.2,583.7 L1055.9,584.5 L1055.9,608 Q1056,611 1061,611 Q1066,611 1066.1,608 L1066.1,584.5 L1067,583.7 L1067,579.5 L1068.6,577.8 L1068,577 L1068,391 Z"/>
<ellipse class="w" cx="1061.0" cy="391.0" rx="7.0" ry="3.0" transform="rotate(0 1061.0 391.0)"/>
<path class="k" d="M1054.2,579.5 L1067,579.5 M1055.9,584.5 L1066.1,584.5"/>
<path class="t" d="M1061,591 L1061,601"/>
<path class="w" d="M1046.5,638.9 L1047,646 Q1050,650 1060.4,650 Q1072,650 1074.6,645 L1074.6,637"/>
<path class="k" d="M1047,646 Q1050,650 1060.4,650 Q1072,650 1074.6,645 L1074.6,637"/>
<path class="g" d="M1055,641 L1055,649 M1068,641 L1068,649"/>
<path class="w" d="M1079.5,626.0 L1080.9,627.7 L1080.6,629.3 L1078.4,631.0 L1077.6,632.5 L1077.9,634.0 L1076.6,635.4 L1073.9,636.6 L1072.3,637.7 L1071.4,638.7 L1069.4,639.5 L1066.7,640.2 L1064.7,640.6 L1062.7,640.9 L1060.4,641.0 L1058.3,640.9 L1056.1,640.6 L1053.6,640.2 L1051.4,639.5 L1050.2,638.7 L1048.5,637.7 L1045.8,636.6 L1044.2,635.4 L1044.2,634.0 L1043.2,632.5 L1040.9,631.0 L1040.2,629.3 L1041.4,627.7 L1041.3,626.0 L1039.9,624.8 L1040.2,623.6 L1042.4,622.8 L1043.2,621.7 L1042.9,620.4 L1044.2,619.4 L1046.9,619.1 L1048.5,618.3 L1049.4,617.0 L1051.4,616.4 L1054.1,616.7 L1056.1,616.4 L1058.1,615.5 L1060.4,615.4 L1062.5,616.3 L1064.7,616.4 L1067.2,616.0 L1069.4,616.4 L1070.6,617.7 L1072.3,618.3 L1075.0,618.5 L1076.6,619.4 L1076.6,620.8 L1077.6,621.7 L1079.9,622.5 L1080.6,623.6 L1079.4,624.9 L1079.5,626.0 Z"/>
<path class="k" d="M1070.1,626.9 L1077.0,629.5"/>
<path class="k" d="M1068.2,628.5 L1073.7,634.7"/>
<path class="k" d="M1064.7,629.6 L1067.8,638.6"/>
<path class="k" d="M1060.4,630.0 L1060.4,640.0"/>
<path class="k" d="M1056.1,629.6 L1053.0,638.6"/>
<path class="k" d="M1052.6,628.5 L1047.1,634.7"/>
<path class="k" d="M1050.7,626.9 L1043.8,629.5"/>
<path class="k" d="M1048.7,624.9 L1042.9,624.0"/>
<path class="k" d="M1051.0,622.9 L1046.3,620.4"/>
<path class="k" d="M1055.2,621.5 L1052.6,617.9"/>
<path class="k" d="M1060.4,621.0 L1060.4,617.0"/>
<path class="k" d="M1065.6,621.5 L1068.2,617.9"/>
<path class="k" d="M1069.8,622.9 L1074.5,620.4"/>
<path class="k" d="M1072.1,624.9 L1077.9,624.0"/>
<ellipse class="k" cx="1060.4" cy="623.5" rx="4.8" ry="3.0" transform="rotate(0 1060.4 623.5)"/>
<path class="w" d="M1024.0,654.9 L1040.1,647.4 L1041.0,644.5 L1038.2,643.3 L1022.1,650.8"/>
<path class="t" d="M1028.2,652.9 L1025.6,649.2 M1029.6,652.3 L1027.0,648.5 M1031.1,651.6 L1028.5,647.8 M1032.5,650.9 L1029.9,647.2 M1034.0,650.2 L1031.4,646.5 M1035.4,649.6 L1032.8,645.8 M1036.9,648.9 L1034.3,645.1 M1038.3,648.2 L1035.7,644.5 M1039.8,647.5 L1037.2,643.8"/>
<ellipse class="w" cx="1020.3" cy="654.1" rx="3.8" ry="5.0" transform="rotate(-24.9 1020.3 654.1)"/>
<ellipse class="w" cx="1019.2" cy="654.6" rx="3.0" ry="4.2" transform="rotate(-24.9 1019.2 654.6)"/>
<path class="w" d="M1049.2,660.8 L1049.2,666 Q1050,669 1060.2,669 Q1071,669 1071.2,666 L1071.2,660.8"/>
<path class="k" d="M1049.2,666 Q1050,669.5 1060.2,669.5 Q1071,669.5 1071.2,666"/>
<ellipse class="wb" cx="1060.2" cy="660.8" rx="11.0" ry="6.0" transform="rotate(0 1060.2 660.8)"/>
<ellipse class="k" cx="1060.2" cy="660.0" rx="4.5" ry="2.5" transform="rotate(0 1060.2 660.0)"/>
<ellipse class="w" cx="1060.2" cy="682.0" rx="11.0" ry="6.0" transform="rotate(0 1060.2 682.0)"/>
<ellipse class="k" cx="1060.2" cy="681.2" rx="11.0" ry="6.0" transform="rotate(0 1060.2 681.2)"/>
<ellipse class="k" cx="1060.2" cy="681.0" rx="5.0" ry="2.8" transform="rotate(0 1060.2 681.0)"/>
<ellipse class="wb" cx="949.0" cy="488.2" rx="7.5" ry="4.0" transform="rotate(0 949.0 488.2)"/>
<ellipse class="k" cx="949.0" cy="487.8" rx="2.5" ry="1.5" transform="rotate(0 949.0 487.8)"/>
<path class="w" d="M946.5,506 L946.5,497.5 Q949,495.5 951.5,497.5 L951.5,506 Z"/>
<path class="t" d="M946.5,499.5 L951.5,498.5 M946.5,501.5 L951.5,500.5 M946.5,503.5 L951.5,502.5"/>
<path class="w" d="M943,507 L943,510.5 Q943,513 949,513 Q955,513 955,510.5 L955,507 Z"/>
<ellipse class="wb" cx="949.0" cy="507.0" rx="6.0" ry="2.6" transform="rotate(0 949.0 507.0)"/>
<ellipse class="g" cx="949.0" cy="507.0" rx="3.0" ry="1.3" transform="rotate(0 949.0 507.0)"/>
<polyline class="g" points="377.5,581.2 376.2,600.0"/>
<path class="wb" d="M395.7,592.1 Q405,592 413,594.4 Q422,598 430.3,603.9 Q438,610 444.5,618.1 Q450,625 453.9,633.8 Q458,641 460.2,648 L463.4,655.8 L467.3,662.1 L463.4,666.9 Q459,671 458.6,676.3 Q458,682 460.2,685.8 L466.5,687.3 L463.4,690.5 Q460,693 457.1,695.2 Q451,699 444.5,701.5 Q435,705 425.6,706.2 Q419,706 413,704.6 Q405,701 397.2,695.2 Q389,689 381.5,682.6 Q373,675 367.3,666.9 Q361,657 357.9,648 Q355,640 356.3,632.2 Q357,625 361,619.6 Q364,613 368.9,608.6 Q374,602 381.5,597.6 Q388,593 395.7,592.1 Z"/>
<ellipse class="k" cx="398.4" cy="661.2" rx="30.7" ry="51.0" transform="rotate(-38.7 398.4 661.2)"/>
<ellipse class="g" cx="399.5" cy="661.5" rx="28.5" ry="48.5" transform="rotate(-38.7 399.5 661.5)"/>
<clipPath id="gr1"><path d="M361,633 Q372,616 392,617 Q420,628 432,655 Q440,675 436,690 L426,684 Q426,668 417,651 Q402,630 385,628 Q371,630 366,640 Z"/></clipPath>
<g clip-path="url(#gr1)"><path class="t" d="M350.0,600 L362.0,710 M352.2,600 L364.2,710 M354.4,600 L366.4,710 M356.6,600 L368.6,710 M358.8,600 L370.8,710 M361.0,600 L373.0,710 M363.2,600 L375.2,710 M365.4,600 L377.4,710 M367.6,600 L379.6,710 M369.8,600 L381.8,710 M372.0,600 L384.0,710 M374.2,600 L386.2,710 M376.4,600 L388.4,710 M378.6,600 L390.6,710 M380.8,600 L392.8,710 M383.0,600 L395.0,710 M385.2,600 L397.2,710 M387.4,600 L399.4,710 M389.6,600 L401.6,710 M391.8,600 L403.8,710 M394.0,600 L406.0,710 M396.2,600 L408.2,710 M398.4,600 L410.4,710 M400.6,600 L412.6,710 M402.8,600 L414.8,710 M405.0,600 L417.0,710 M407.2,600 L419.2,710 M409.4,600 L421.4,710 M411.6,600 L423.6,710 M413.8,600 L425.8,710 M416.0,600 L428.0,710 M418.2,600 L430.2,710 M420.4,600 L432.4,710 M422.6,600 L434.6,710 M424.8,600 L436.8,710 M427.0,600 L439.0,710 M429.2,600 L441.2,710 M431.4,600 L443.4,710 M433.6,600 L445.6,710 M435.8,600 L447.8,710"/></g>
<path class="k" d="M361,633 Q372,616 392,617 Q420,628 432,655 Q440,675 436,690 L426,684 Q426,668 417,651 Q402,630 385,628 Q371,630 366,640 Z"/>
<clipPath id="gr2"><path d="M366,645 Q374,634 386,635 Q403,640 414,657 Q422,670 422,683 L414,676 Q413,666 405,656 Q394,645 383,646 Q374,648 372,656 Z"/></clipPath>
<g clip-path="url(#gr2)"><path class="t" d="M350.0,600 L362.0,710 M352.2,600 L364.2,710 M354.4,600 L366.4,710 M356.6,600 L368.6,710 M358.8,600 L370.8,710 M361.0,600 L373.0,710 M363.2,600 L375.2,710 M365.4,600 L377.4,710 M367.6,600 L379.6,710 M369.8,600 L381.8,710 M372.0,600 L384.0,710 M374.2,600 L386.2,710 M376.4,600 L388.4,710 M378.6,600 L390.6,710 M380.8,600 L392.8,710 M383.0,600 L395.0,710 M385.2,600 L397.2,710 M387.4,600 L399.4,710 M389.6,600 L401.6,710 M391.8,600 L403.8,710 M394.0,600 L406.0,710 M396.2,600 L408.2,710 M398.4,600 L410.4,710 M400.6,600 L412.6,710 M402.8,600 L414.8,710 M405.0,600 L417.0,710 M407.2,600 L419.2,710 M409.4,600 L421.4,710 M411.6,600 L423.6,710 M413.8,600 L425.8,710 M416.0,600 L428.0,710 M418.2,600 L430.2,710 M420.4,600 L432.4,710 M422.6,600 L434.6,710 M424.8,600 L436.8,710 M427.0,600 L439.0,710 M429.2,600 L441.2,710 M431.4,600 L443.4,710 M433.6,600 L445.6,710 M435.8,600 L447.8,710"/></g>
<path class="k" d="M366,645 Q374,634 386,635 Q403,640 414,657 Q422,670 422,683 L414,676 Q413,666 405,656 Q394,645 383,646 Q374,648 372,656 Z"/>
<clipPath id="gr3"><path d="M360,647 L372,655 L383,664 L384,688 L373,678 Q364,666 360,647 Z"/></clipPath>
<g clip-path="url(#gr3)"><path class="t" d="M350.0,600 L362.0,710 M352.2,600 L364.2,710 M354.4,600 L366.4,710 M356.6,600 L368.6,710 M358.8,600 L370.8,710 M361.0,600 L373.0,710 M363.2,600 L375.2,710 M365.4,600 L377.4,710 M367.6,600 L379.6,710 M369.8,600 L381.8,710 M372.0,600 L384.0,710 M374.2,600 L386.2,710 M376.4,600 L388.4,710 M378.6,600 L390.6,710 M380.8,600 L392.8,710 M383.0,600 L395.0,710 M385.2,600 L397.2,710 M387.4,600 L399.4,710 M389.6,600 L401.6,710 M391.8,600 L403.8,710 M394.0,600 L406.0,710 M396.2,600 L408.2,710 M398.4,600 L410.4,710 M400.6,600 L412.6,710 M402.8,600 L414.8,710 M405.0,600 L417.0,710 M407.2,600 L419.2,710 M409.4,600 L421.4,710 M411.6,600 L423.6,710 M413.8,600 L425.8,710 M416.0,600 L428.0,710 M418.2,600 L430.2,710 M420.4,600 L432.4,710 M422.6,600 L434.6,710 M424.8,600 L436.8,710 M427.0,600 L439.0,710 M429.2,600 L441.2,710 M431.4,600 L443.4,710 M433.6,600 L445.6,710 M435.8,600 L447.8,710"/></g>
<path class="k" d="M360,647 L372,655 L383,664 L384,688 L373,678 Q364,666 360,647 Z"/>
<clipPath id="gr4"><path d="M405,680 L414,679 Q424,683 435,690 Q432,700 422,704 L407,703 Z"/></clipPath>
<g clip-path="url(#gr4)"><path class="t" d="M350.0,600 L362.0,710 M352.2,600 L364.2,710 M354.4,600 L366.4,710 M356.6,600 L368.6,710 M358.8,600 L370.8,710 M361.0,600 L373.0,710 M363.2,600 L375.2,710 M365.4,600 L377.4,710 M367.6,600 L379.6,710 M369.8,600 L381.8,710 M372.0,600 L384.0,710 M374.2,600 L386.2,710 M376.4,600 L388.4,710 M378.6,600 L390.6,710 M380.8,600 L392.8,710 M383.0,600 L395.0,710 M385.2,600 L397.2,710 M387.4,600 L399.4,710 M389.6,600 L401.6,710 M391.8,600 L403.8,710 M394.0,600 L406.0,710 M396.2,600 L408.2,710 M398.4,600 L410.4,710 M400.6,600 L412.6,710 M402.8,600 L414.8,710 M405.0,600 L417.0,710 M407.2,600 L419.2,710 M409.4,600 L421.4,710 M411.6,600 L423.6,710 M413.8,600 L425.8,710 M416.0,600 L428.0,710 M418.2,600 L430.2,710 M420.4,600 L432.4,710 M422.6,600 L434.6,710 M424.8,600 L436.8,710 M427.0,600 L439.0,710 M429.2,600 L441.2,710 M431.4,600 L443.4,710 M433.6,600 L445.6,710 M435.8,600 L447.8,710"/></g>
<path class="k" d="M405,680 L414,679 Q424,683 435,690 Q432,700 422,704 L407,703 Z"/>
<ellipse class="w" cx="432.0" cy="679.0" rx="3.0" ry="3.2" transform="rotate(0 432.0 679.0)"/>
<path class="g" d="M392.5,596 Q392,605 394.1,608.6 Q398,614 405.1,616.5 Q415,620 425.6,621.2 L444.5,622.8"/>
<path class="g" d="M419.3,641.7 L444.5,622.8 L457.1,646.4 L425.6,651.1"/>
<path class="g" d="M436,663 L457.1,646.4 M457.1,646.4 Q452,665 450,685 Q448,695 444,701"/>
<path class="k" d="M467.3,662.1 Q457,666 455,678 Q455,690 466.5,687.3"/>
<path class="g" d="M379,603 L392,596"/>
<polyline class="g" points="325.0,625.0 325.0,637.5 336.2,651.2"/>
<path class="w" d="M342.6,657.0 L347.7,654.5 L348.5,651.5 L345.7,650.3 L340.6,652.9"/>
<path class="t" d="M343.7,656.4 L341.0,652.7 M345.2,655.7 L342.4,652.0 M346.6,655.0 L343.8,651.3 M348.0,654.3 L345.3,650.5"/>
<ellipse class="w" cx="338.5" cy="656.5" rx="4.3" ry="5.8" transform="rotate(-26.6 338.5 656.5)"/>
<ellipse class="w" cx="337.4" cy="657.0" rx="3.5" ry="4.9" transform="rotate(-26.6 337.4 657.0)"/>
<path class="w" d="M384.8,709.0 L390.8,706.0 L391.5,703.0 L388.7,701.9 L382.8,704.9"/>
<path class="t" d="M386.2,708.3 L383.4,704.5 M387.7,707.5 L384.9,703.8 M389.1,706.8 L386.3,703.1 M390.5,706.1 L387.7,702.3"/>
<ellipse class="w" cx="380.7" cy="708.5" rx="4.3" ry="5.8" transform="rotate(-27.0 380.7 708.5)"/>
<ellipse class="w" cx="379.6" cy="709.0" rx="3.5" ry="4.9" transform="rotate(-27.0 379.6 709.0)"/>
<path class="w" d="M502.1,621.2 Q503,617 506.3,617 L518.4,618.2 L522.1,623 L529.3,627.8 L529.3,633.9 L523.3,636.9 L518.4,635.1 L503.9,626.6 Z"/>
<path class="k" d="M503.9,626.6 L503.9,629 L518.4,637.5 L523.3,638.5 L529.3,635"/>
<ellipse class="k" cx="506.3" cy="623.0" rx="2.5" ry="1.6" transform="rotate(30 506.3 623.0)"/>
<ellipse class="k" cx="520.8" cy="632.1" rx="2.5" ry="1.6" transform="rotate(30 520.8 632.1)"/>
<polyline class="g" points="527.5,635.1 537.8,644.8 537.8,653.3"/>
<path class="w" d="M486.0,637.5 L498.4,630.9 L499.0,627.8 L496.1,626.6 L483.8,633.2"/>
<path class="t" d="M488.9,635.9 L486.0,632.1 M490.3,635.2 L487.4,631.3 M491.8,634.4 L488.8,630.5 M493.2,633.6 L490.2,629.8 M494.6,632.9 L491.6,629.0 M496.0,632.1 L493.0,628.3 M497.4,631.4 L494.4,627.5 M498.8,630.6 L495.8,626.8"/>
<ellipse class="w" cx="482.0" cy="636.9" rx="4.1" ry="5.5" transform="rotate(-28.2 482.0 636.9)"/>
<ellipse class="w" cx="480.9" cy="637.5" rx="3.3" ry="4.7" transform="rotate(-28.2 480.9 637.5)"/>
<path class="w" d="M501.0,646.0 L513.4,639.4 L514.0,636.3 L511.1,635.1 L498.8,641.7"/>
<path class="t" d="M503.9,644.4 L501.0,640.6 M505.3,643.7 L502.4,639.8 M506.8,642.9 L503.8,639.0 M508.2,642.1 L505.2,638.3 M509.6,641.4 L506.6,637.5 M511.0,640.6 L508.0,636.8 M512.4,639.9 L509.4,636.0 M513.8,639.1 L510.8,635.3"/>
<ellipse class="w" cx="497.0" cy="645.4" rx="4.1" ry="5.5" transform="rotate(-28.2 497.0 645.4)"/>
<ellipse class="w" cx="495.9" cy="646.0" rx="3.3" ry="4.7" transform="rotate(-28.2 495.9 646.0)"/>
<polyline class="g" points="508.7,644.8 514.8,656.9 514.8,667.8"/>
<path class="k" d="M461.25,744.4 L557.1,693.7 Q561,690 560.5,683.7 Q559,672 558.8,663.6 Q560,654 567.1,650.3 L582.2,643.6"/>
<path class="k" d="M463.75,750.6 L563.8,697.1 Q567,693 567.1,683.7 L567.1,667 Q568,657 573.8,653.6 L585.5,646.9"/>
<path class="k" d="M461.25,744.4 Q460,748 463.75,750.6"/>
<path class="k" d="M582.2,643.6 L590,637 M584,645.5 L592,639 M585.5,646.9 L594,641"/>
<polyline class="g" points="566.9,686.0 576.5,694.4 576.5,707.0"/>
<path class="w" d="M426.9,761.25 L452.5,746.9 Q459,750 456.9,757.5 L433.1,771.25 Z"/>
<path class="k" d="M426.9,761.25 L452.5,746.9 M433.1,771.25 L456.9,757.5"/>
<ellipse class="k" cx="455.0" cy="752.5" rx="3.0" ry="5.5" transform="rotate(-30 455.0 752.5)"/>
<ellipse class="wb" cx="430.0" cy="765.6" rx="3.8" ry="5.6" transform="rotate(-30 430.0 765.6)"/>
<polyline class="g" points="434.8,732.8 434.8,743.1 440.0,754.4"/>
<text x="53.0" y="58.9" font-size="11.4" textLength="73.0" lengthAdjust="spacingAndGlyphs">3 601 M45 000</text>
<text x="53.8" y="73.5" font-size="11" textLength="26.0" lengthAdjust="spacingAndGlyphs">Issue</text>
<text x="52.7" y="85.8" font-size="11" textLength="28.0" lengthAdjust="spacingAndGlyphs">Stand</text>
<text x="88.7" y="79.4" font-size="11" textLength="42.4" lengthAdjust="spacingAndGlyphs">21-01-07</text>
<path class="k" d="M81.8,65.7 Q85,66 85,70 L85,74 Q85,76 86.6,76.4 Q85,77 85,79 L85,83 Q85,87 81.8,87.2" />
<rect x="135.8" y="65.2" width="91.3" height="21.4" fill="#000"/>
<text x="139" y="81.4" font-size="18.7" font-weight="bold" fill="#fff" textLength="83.8" lengthAdjust="spacingAndGlyphs">Fig./Abb. 4</text>
<text x="998.6" y="745.1" font-size="12" textLength="106.5" lengthAdjust="spacingAndGlyphs">Modifications reserved</text>
<text x="998.6" y="756.8" font-size="12" textLength="116.5" lengthAdjust="spacingAndGlyphs">Änderungen vorbehalten</text>
<text x="998.6" y="768.5" font-size="12" textLength="111.7" lengthAdjust="spacingAndGlyphs">Modifications resérvées</text>
<text x="998.6" y="780.2" font-size="12" textLength="99.5" lengthAdjust="spacingAndGlyphs">Salvo modificaciones</text>
<text x="684.5" y="72.5" font-size="13.8" font-weight="bold" textLength="22.0" lengthAdjust="spacingAndGlyphs">124</text>
<text x="799.5" y="118.0" font-size="13.8" font-weight="bold" textLength="21.0" lengthAdjust="spacingAndGlyphs">123</text>
<text x="494.0" y="108.8" font-size="13.8" font-weight="bold" textLength="21.8" lengthAdjust="spacingAndGlyphs">825</text>
<text x="435.2" y="157.0" font-size="13.8" font-weight="bold" textLength="21.0" lengthAdjust="spacingAndGlyphs">127</text>
<text x="373.5" y="178.0" font-size="13.8" font-weight="bold" textLength="21.5" lengthAdjust="spacingAndGlyphs">128</text>
<text x="372.0" y="190.3" font-size="13.8" font-weight="bold" textLength="23.5" lengthAdjust="spacingAndGlyphs">(x2)</text>
<text x="308.2" y="266.2" font-size="13.8" font-weight="bold" textLength="7.2" lengthAdjust="spacingAndGlyphs">2</text>
<text x="122.0" y="363.0" font-size="13.8" font-weight="bold" textLength="21.0" lengthAdjust="spacingAndGlyphs">803</text>
<text x="87.8" y="437.5" font-size="13.8" font-weight="bold" textLength="14.0" lengthAdjust="spacingAndGlyphs">13</text>
<text x="60.8" y="451.2" font-size="13.8" font-weight="bold" textLength="21.0" lengthAdjust="spacingAndGlyphs">129</text>
<text x="552.5" y="428.8" font-size="13.8" font-weight="bold" textLength="20.5" lengthAdjust="spacingAndGlyphs">126</text>
<text x="552.5" y="440.8" font-size="13.8" font-weight="bold" textLength="22.5" lengthAdjust="spacingAndGlyphs">(x4)</text>
<text x="508.8" y="475.5" font-size="13.8" font-weight="bold" textLength="20.5" lengthAdjust="spacingAndGlyphs">801</text>
<text x="367.0" y="579.2" font-size="13.8" font-weight="bold" textLength="20.2" lengthAdjust="spacingAndGlyphs">131</text>
<text x="316.5" y="609.2" font-size="13.8" font-weight="bold" textLength="15.2" lengthAdjust="spacingAndGlyphs">77</text>
<text x="314.0" y="620.3" font-size="13.8" font-weight="bold" textLength="22.8" lengthAdjust="spacingAndGlyphs">(x2)</text>
<text x="533.2" y="667.5" font-size="13.8" font-weight="bold" textLength="7.2" lengthAdjust="spacingAndGlyphs">7</text>
<text x="507.0" y="680.0" font-size="13.8" font-weight="bold" textLength="13.5" lengthAdjust="spacingAndGlyphs">19</text>
<text x="503.2" y="691.5" font-size="13.8" font-weight="bold" textLength="23.5" lengthAdjust="spacingAndGlyphs">(x2)</text>
<text x="566.5" y="718.8" font-size="13.8" font-weight="bold" textLength="20.2" lengthAdjust="spacingAndGlyphs">132</text>
<text x="423.9" y="730.0" font-size="13.8" font-weight="bold" textLength="20.4" lengthAdjust="spacingAndGlyphs">201</text>
<text x="659.8" y="685.8" font-size="13.8" font-weight="bold" textLength="22.2" lengthAdjust="spacingAndGlyphs">810</text>
<text x="660.5" y="696.5" font-size="13.8" font-weight="bold" textLength="22.8" lengthAdjust="spacingAndGlyphs">(x2)</text>
<text x="694.2" y="705.0" font-size="13.8" font-weight="bold" textLength="20.8" lengthAdjust="spacingAndGlyphs">130</text>
<text x="694.2" y="716.5" font-size="13.8" font-weight="bold" textLength="22.2" lengthAdjust="spacingAndGlyphs">(x2)</text>
<text x="1090.0" y="376.0" font-size="13.8" font-weight="bold" textLength="20.2" lengthAdjust="spacingAndGlyphs">135</text>
<text x="1090.0" y="432.5" font-size="13.8" font-weight="bold" textLength="20.2" lengthAdjust="spacingAndGlyphs">136</text>
<text x="908.0" y="492.5" font-size="13.8" font-weight="bold" textLength="19.8" lengthAdjust="spacingAndGlyphs">101</text>
<text x="910.5" y="513.2" font-size="13.8" font-weight="bold" textLength="14.8" lengthAdjust="spacingAndGlyphs">35</text>
<text x="1009.8" y="634.2" font-size="13.8" font-weight="bold" textLength="20.5" lengthAdjust="spacingAndGlyphs">138</text>
<text x="1090.0" y="645.0" font-size="13.8" font-weight="bold" textLength="20.2" lengthAdjust="spacingAndGlyphs">137</text>
<text x="1090.0" y="667.0" font-size="13.8" font-weight="bold" textLength="20.2" lengthAdjust="spacingAndGlyphs">139</text>
<text x="1090.0" y="686.2" font-size="13.8" font-weight="bold" textLength="20.2" lengthAdjust="spacingAndGlyphs">140</text>
<path class="d" d="M641,156.8 L689.7,137.2 L689.7,361 L845.4,272"/>
<path class="d" d="M620,175.4 L689.7,137.2"/>
<path class="d" d="M640.7,156.8 L640.7,187"/>
<path class="d" d="M949.2,263.5 L1061,333.5 L1061,361"/>
<path class="d" d="M949.2,233 L949.2,240"/>
<path class="d" d="M948.7,444.5 L948.7,484"/>
<path class="d" d="M948.7,444.5 L970.5,456.2 L970.5,656.3 L1061,708.8 L1061,691.3"/>
<path class="d" d="M1061,658 L1061,674"/>
<path class="d" d="M1061,666 L1061,654"/>
<path class="d" d="M60.2,500.6 L75.4,490 M60.2,500.6 L197.5,578.5 L581.1,357.8 L750.2,455.7 L704.6,483.5"/>
<path class="d" d="M582.3,456.8 L593.4,450.1 L593.4,464.6 L606.7,456.8"/>
<path class="d" d="M669,587.5 L720.25,572.5 L732.75,580 L681.5,595 Z"/>
<path class="d" d="M669,504.5 L702,487.6"/>
<path class="d" d="M614,590 L640,603"/>
<path class="d" d="M539,578 L440,630"/>
<path class="d" d="M350,651 L362,644"/>
<path class="d" d="M392,703 L433,681"/>
<path class="d" d="M500,627 L506,623 M521,632 L560,612"/>
<path class="d" d="M506,619 L554,596"/>
<path class="d" d="M282,372.1 L336,341.0"/>
<path class="d" d="M395,307.0 L462,268.4"/>
<path class="d" d="M583,198.7 L620,177.4"/>
</svg></body></html>
